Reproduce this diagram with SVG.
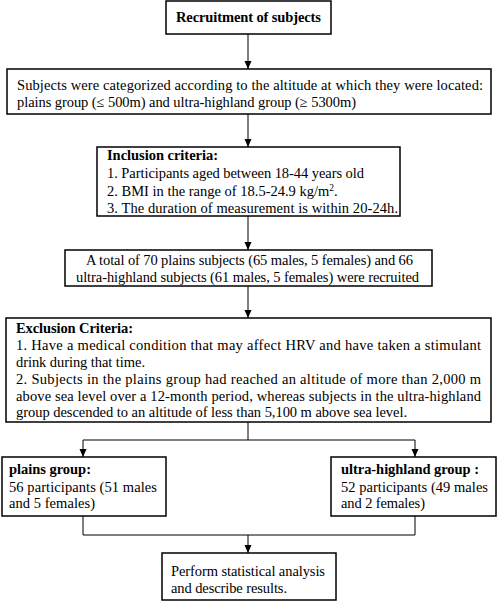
<svg xmlns="http://www.w3.org/2000/svg" width="498" height="602" viewBox="0 0 498 602">
<defs>
<marker id="ah" viewBox="0 0 8 8" refX="8" refY="4" markerWidth="8" markerHeight="8" markerUnits="userSpaceOnUse" orient="auto">
<path d="M0,0.5 L8,4 L0,7.5 Z" fill="#000"/>
</marker>
<style>
.box{fill:#fff;stroke:#000;stroke-width:1.5}
.ln{fill:none;stroke:#000;stroke-width:1}
text{font-family:"Liberation Serif","Times New Roman",serif;font-size:14.5px;fill:#000}
.b{font-weight:bold}
.c{text-anchor:middle}
</style>
</defs>
<g id="connectors">
<path class="ln" d="M248,34 V69" marker-end="url(#ah)"/>
<path class="ln" d="M248,114 V147" marker-end="url(#ah)"/>
<path class="ln" d="M248,216 V250" marker-end="url(#ah)"/>
<path class="ln" d="M248,286 V318" marker-end="url(#ah)"/>
<path class="ln" d="M248,422 V440 M83,440 H415"/>
<path class="ln" d="M83,440 V457" marker-end="url(#ah)"/>
<path class="ln" d="M415,440 V457" marker-end="url(#ah)"/>
<path class="ln" d="M83,516 V535 H415 V516"/>
<path class="ln" d="M248,535 V553" marker-end="url(#ah)"/>
</g>
<g id="recruitment">
<rect class="box" x="166" y="1" width="165" height="33"/>
<text class="b" x="176" y="22" textLength="145" lengthAdjust="spacing">Recruitment of subjects</text>
</g>
<g id="categorized">
<rect class="box" x="7" y="69" width="484" height="45"/>
<text x="17" y="90" textLength="466" lengthAdjust="spacing">Subjects were categorized according to the altitude at which they were located:</text>
<text x="17" y="107" textLength="339" lengthAdjust="spacing">plains group (≤ 500m) and ultra-highland group (≥ 5300m)</text>
</g>
<g id="inclusion">
<rect class="box" x="97" y="147" width="303" height="69"/>
<text class="b" x="107" y="160" textLength="111" lengthAdjust="spacing">Inclusion criteria:</text>
<text x="107" y="178" textLength="257" lengthAdjust="spacing">1. Participants aged between 18-44 years old</text>
<text x="107" y="196">2. BMI in the range of 18.5-24.9 kg/m<tspan font-size="9.5" dy="-5">2</tspan><tspan dy="5">.</tspan></text>
<text x="107" y="213" textLength="291" lengthAdjust="spacing">3. The duration of measurement is within 20-24h.</text>
</g>
<g id="total">
<rect class="box" x="65" y="250" width="367" height="36"/>
<text x="86" y="265" textLength="327" lengthAdjust="spacing">A total of 70 plains subjects (65 males, 5 females) and 66</text>
<text x="76" y="282" textLength="343" lengthAdjust="spacing">ultra-highland subjects (61 males, 5 females) were recruited</text>
</g>
<g id="exclusion">
<rect class="box" x="6" y="318" width="485" height="104"/>
<text class="b" x="16" y="333" textLength="117" lengthAdjust="spacing">Exclusion Criteria:</text>
<text x="16" y="350" textLength="465" lengthAdjust="spacing">1. Have a medical condition that may affect HRV and have taken a stimulant</text>
<text x="16" y="367" textLength="129" lengthAdjust="spacing">drink during that time.</text>
<text x="16" y="384" textLength="465" lengthAdjust="spacing">2. Subjects in the plains group had reached an altitude of more than 2,000 m</text>
<text x="16" y="401" textLength="465" lengthAdjust="spacing">above sea level over a 12-month period, whereas subjects in the ultra-highland</text>
<text x="16" y="417" textLength="391" lengthAdjust="spacing">group descended to an altitude of less than 5,100 m above sea level.</text>
</g>
<g id="plains">
<rect class="box" x="2" y="457" width="164" height="59"/>
<text class="b" x="9" y="474" textLength="82" lengthAdjust="spacing">plains group:</text>
<text x="9" y="492" textLength="148" lengthAdjust="spacing">56 participants (51 males</text>
<text x="9" y="508" textLength="86" lengthAdjust="spacing">and 5 females)</text>
</g>
<g id="ultra">
<rect class="box" x="331" y="457" width="165" height="59"/>
<text class="b" x="341" y="474" textLength="138" lengthAdjust="spacing">ultra-highland group :</text>
<text x="341" y="492" textLength="147" lengthAdjust="spacing">52 participants (49 males</text>
<text x="341" y="508" textLength="84" lengthAdjust="spacing">and 2 females)</text>
</g>
<g id="analysis">
<rect class="box" x="162" y="553" width="174" height="47"/>
<text x="171" y="576" textLength="154" lengthAdjust="spacing">Perform statistical analysis</text>
<text x="171" y="593" textLength="116" lengthAdjust="spacing">and describe results.</text>
</g>
</svg>
